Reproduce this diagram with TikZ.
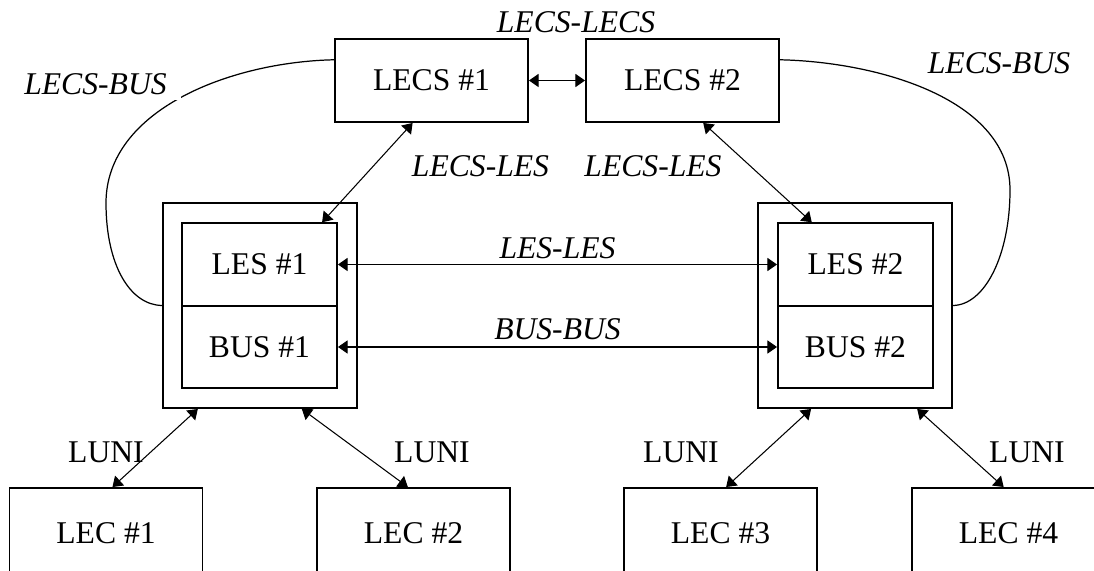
\documentclass[tikz,border=0pt]{standalone}
\usepackage{fontspec}
\setmainfont{Liberation Serif}
\usetikzlibrary{arrows.meta}

\begin{document}
\begin{tikzpicture}[font=\fontsize{18pt}{21pt}\selectfont,
   box/.style={draw, line width=1.1pt, minimum width=3.86cm, minimum height=1.66cm, inner sep=0pt},
   link/.style={{Triangle[length=5.5pt,width=7.5pt]}-{Triangle[length=5.5pt,width=7.5pt]}, line width=0.6pt},
   curve/.style={line width=0.7pt},
   lab/.style={font=\fontsize{18pt}{21pt}\selectfont\itshape}]
         \useasboundingbox (0,0) rectangle (21.88,11.4);
         \clip (0,0) rectangle (21.88,11.4);
         % servers
         \node[box] (LECS1) at (8.63, 9.79) {LECS \#1};
         \node[box] (LECS2) at (13.65, 9.79) {LECS \#2};
         \node[box, minimum width=3.88cm, minimum height=4.10cm] (OUT1) at (5.2, 5.29) {};
         \node[box, minimum width=3.88cm, minimum height=4.10cm] (OUT2) at (17.1, 5.29) {};
         \node[box, minimum width=3.10cm, minimum height=1.65cm] (LES1) at (5.19, 6.11) {LES \#1};
         \node[box, minimum width=3.10cm, minimum height=1.65cm] (BUS1) at (5.19, 4.46) {BUS \#1};
         \node[box, minimum width=3.10cm, minimum height=1.65cm] (LES2) at (17.11, 6.11) {LES \#2};
         \node[box, minimum width=3.10cm, minimum height=1.65cm] (BUS2) at (17.11, 4.46) {BUS \#2};
         % clients
         \node[box, minimum height=1.8cm] (LEC1) at (2.12, 0.74) {LEC \#1};
         \node[box, minimum height=1.8cm] (LEC2) at (8.27, 0.74) {LEC \#2};
         \node[box, minimum height=1.8cm] (LEC3) at (14.41, 0.74) {LEC \#3};
         \node[box, minimum height=1.8cm] (LEC4) at (20.17, 0.74) {LEC \#4};
         % links
         \draw[link] (LECS1.east) -- (LECS2.west);
         \draw[link] (LECS1.246) -- (LES1.34);
         \draw[link] (LECS2.296) -- (LES2.136);
         \draw[link] (LES1.east) -- (LES2.west);
         \draw[link] (BUS1.east) -- (BUS2.west);
         \draw[link] (OUT1.239) -- (LEC1.82);
         \draw[link] (OUT1.292) -- (LEC2.97);
         \draw[link] (OUT2.247) -- (LEC3.83);
         \draw[link] (OUT2.301) -- (LEC4.96);
         \draw[curve] (LECS1.168) .. controls (4.60, 10.16) and (2.12, 9.20) .. (2.12, 7.34)
                 .. controls (2.12, 6.10) and (2.60, 5.30) .. (OUT1.west);
         \draw[curve] (LECS2.12) .. controls (17.60, 10.16) and (20.20, 9.40) .. (20.20, 7.60)
                 .. controls (20.20, 6.30) and (19.70, 5.30) .. (OUT2.east);
         % labels
         \node[lab] (LL) at (11.52, 10.96) {LECS-LECS};
         \node[lab, fill=white, inner xsep=8pt] (LBa) at (1.91, 9.72) {LECS-BUS};
         \node[lab] (LBb) at (19.98, 10.13) {LECS-BUS};
         \node[lab] (LEa) at (9.61, 8.08) {LECS-LES};
         \node[lab] (LEb) at (13.06, 8.08) {LECS-LES};
         \node[lab] (EE) at (11.15, 6.44) {LES-LES};
         \node[lab] (BB) at (11.15, 4.82) {BUS-BUS};
         \node (U1) at (2.12, 2.36) {LUNI};
         \node (U2) at (8.64, 2.36) {LUNI};
         \node (U3) at (13.62, 2.36) {LUNI};
         \node (U4) at (20.54, 2.36) {LUNI};
\end{tikzpicture}
\end{document}
